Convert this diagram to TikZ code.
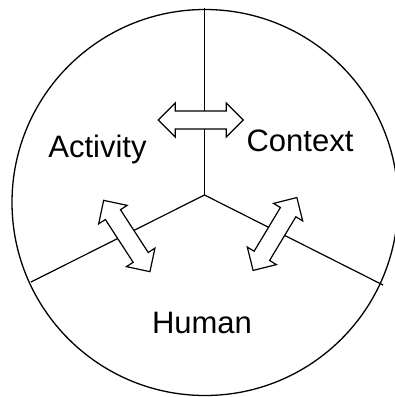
\documentclass[tikz,border=0pt]{standalone}
\usepackage{fontspec}
\setmainfont{Liberation Sans}
\begin{document}
\begin{tikzpicture}[x=1pt,y=-1pt,line width=1.2pt,
  lbl/.style={font=\fontsize{31}{36}\selectfont,anchor=base,inner sep=0pt},
  dblarrow/.style={draw=black,fill=white,line width=1.2pt,line join=miter}]
\useasboundingbox (0,0) rectangle (395,397);
\clip (0,0) rectangle (395,397);
% circle
\node[draw,circle,minimum size=386pt,inner sep=0pt,line width=1.3pt] (circ) at (205,202.5) {};
% hub and spokes
\coordinate (hub) at (204.5,195);
\coordinate (top) at (204.5,8);
\coordinate (left) at (31,282);
\coordinate (right) at (383,285);
\draw (hub) -- (top);
\draw (hub) -- (left);
\draw (hub) -- (right);
% double arrows: length 85, shaft half 9, head half 17, head length 17
\def\dblarrowpath{(-42.5,0) -- (-25.5,17) -- (-25.5,9) -- (25.5,9) -- (25.5,17) -- (42.5,0) -- (25.5,-17) -- (25.5,-9) -- (-25.5,-9) -- (-25.5,-17) -- cycle}
\begin{scope}[shift={(200.8,120)}]
  \draw[dblarrow] \dblarrowpath;
\end{scope}
\begin{scope}[shift={(126.8,236)},rotate=-57]
  \draw[dblarrow] \dblarrowpath;
\end{scope}
\begin{scope}[shift={(275,234)},rotate=59]
  \draw[dblarrow] \dblarrowpath;
\end{scope}
% labels
\node[lbl] (act) at (97.5,157) {Activity};
\node[lbl] (ctx) at (300,151) {Context};
\node[lbl] (hum) at (202,333) {Human};
\end{tikzpicture}
\end{document}
